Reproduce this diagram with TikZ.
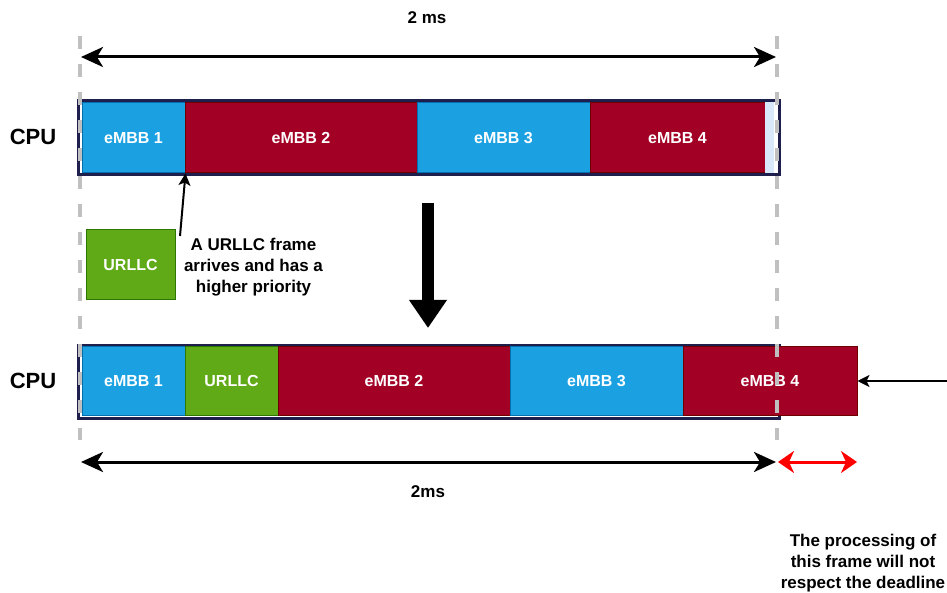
\documentclass[tikz,border=0pt]{standalone}
\usepackage{fontspec}
\setmainfont{Liberation Sans}
\usetikzlibrary{arrows.meta}

\definecolor{ebblue}{HTML}{1BA1E2}
\definecolor{ebblueline}{HTML}{006EAF}
\definecolor{ebred}{HTML}{A20025}
\definecolor{ebredline}{HTML}{6F0000}
\definecolor{urgreen}{HTML}{60A917}
\definecolor{urgreenline}{HTML}{2D7600}
\definecolor{cpunavy}{HTML}{1F1F4D}
\definecolor{idlefill}{HTML}{DAE8FC}
\definecolor{deadgray}{HTML}{C0C0C0}

\tikzset{
  seg/.style={draw, line width=1pt, inner sep=0pt, text=white,
    font=\fontsize{16}{19}\selectfont\bfseries},
  bluebox/.style={seg, fill=ebblue, draw=ebblueline},
  redbox/.style={seg, fill=ebred, draw=ebredline},
  greenbox/.style={seg, fill=urgreen, draw=urgreenline},
  cpuframe/.style={draw=cpunavy, line width=3pt},
  cpulabel/.style={font=\fontsize{22}{26}\selectfont\bfseries},
  timelabel/.style={font=\fontsize{17}{20}\selectfont\bfseries},
  note/.style={align=center, font=\fontsize{17}{21}\selectfont\bfseries},
  deadline/.style={draw=deadgray, line width=4pt, dash pattern=on 13pt off 15pt},
  span/.style={line width=3pt, {Stealth[length=22pt,width=20pt,inset=6pt]}-{Stealth[length=22pt,width=20pt,inset=6pt]}},
  latespan/.style={draw=red, line width=3pt, {Stealth[length=16pt,width=22pt,inset=5pt]}-{Stealth[length=16pt,width=22pt,inset=5pt]}},
  thinarrow/.style={line width=2pt, -{Stealth[length=12pt,width=12pt,inset=3pt]}},
  bigarrow/.style={line width=12pt, -{Triangle[length=28pt,width=36pt]}},
}

\begin{document}
\begin{tikzpicture}[x=1pt,y=-1pt]
\useasboundingbox (0,0) rectangle (947,593);

% ---- first schedule ----
\node[timelabel] (topms) at (427,18) {2 ms};
\node[cpulabel] (cpu1) at (33,137) {CPU};
\draw[cpuframe] (78,101) rectangle (779,175);
\node[bluebox, minimum width=103pt, minimum height=70pt] (t1) at (133.5,138) {eMBB 1};
\node[redbox,  minimum width=232pt, minimum height=70pt] (t2) at (301,138) {eMBB 2};
\node[bluebox, minimum width=173pt, minimum height=70pt] (t3) at (503.5,138) {eMBB 3};
\node[redbox,  minimum width=175pt, minimum height=70pt] (t4) at (677.5,138) {eMBB 4};
\node[seg, fill=idlefill, draw=idlefill, minimum width=8pt, minimum height=70pt] (t5) at (769,138) {};

% incoming URLLC frame
\node[greenbox, minimum width=89pt, minimum height=70pt] (ur) at (130.5,265) {URLLC};
\node[note] (why) at (253.5,267) {A URLLC frame\\arrives and has a\\higher priority};
\coordinate (urtip) at (180,236);
\draw[thinarrow] (urtip) -- (t1.south east);

% rescheduling
\coordinate (d0) at (428,203);
\coordinate (d1) at (428,328);
\draw[bigarrow] (d0) -- (d1);

% ---- second schedule ----
\node[cpulabel] (cpu2) at (33,381) {CPU};
\draw[cpuframe] (78,345) rectangle (779,418);
\node[bluebox,  minimum width=103pt, minimum height=69pt] (b1) at (133.5,381) {eMBB 1};
\node[greenbox, minimum width=93pt,  minimum height=69pt] (b2) at (231.5,381) {URLLC};
\node[redbox,   minimum width=232pt, minimum height=69pt] (b3) at (394,381) {eMBB 2};
\node[bluebox,  minimum width=173pt, minimum height=69pt] (b4) at (596.5,381) {eMBB 3};
\node[redbox,   minimum width=174pt, minimum height=69pt] (b5) at (770,381) {eMBB 4};
\coordinate (late) at (947,381);
\draw[thinarrow] (late) -- (b5.east);

% deadlines
\coordinate (l0) at (80,36);
\coordinate (l1) at (80,440);
\coordinate (r0) at (777,36);
\coordinate (r1) at (777,440);
\draw[deadline] (l0) -- (l1);
\draw[deadline] (r0) -- (r1);

% time spans
\coordinate (s0) at (81,57);
\coordinate (s1) at (776,57);
\draw[span] (s0) -- (s1);
\coordinate (u0) at (81,462);
\coordinate (u1) at (776,462);
\draw[span] (u0) -- (u1);
\coordinate (v0) at (778,462);
\coordinate (v1) at (857,462);
\draw[latespan] (v0) -- (v1);
\node[timelabel] (botms) at (428,492) {2ms};
\node[note] (miss) at (863,563) {The processing of\\this frame will not\\respect the deadline};
\end{tikzpicture}
\end{document}
